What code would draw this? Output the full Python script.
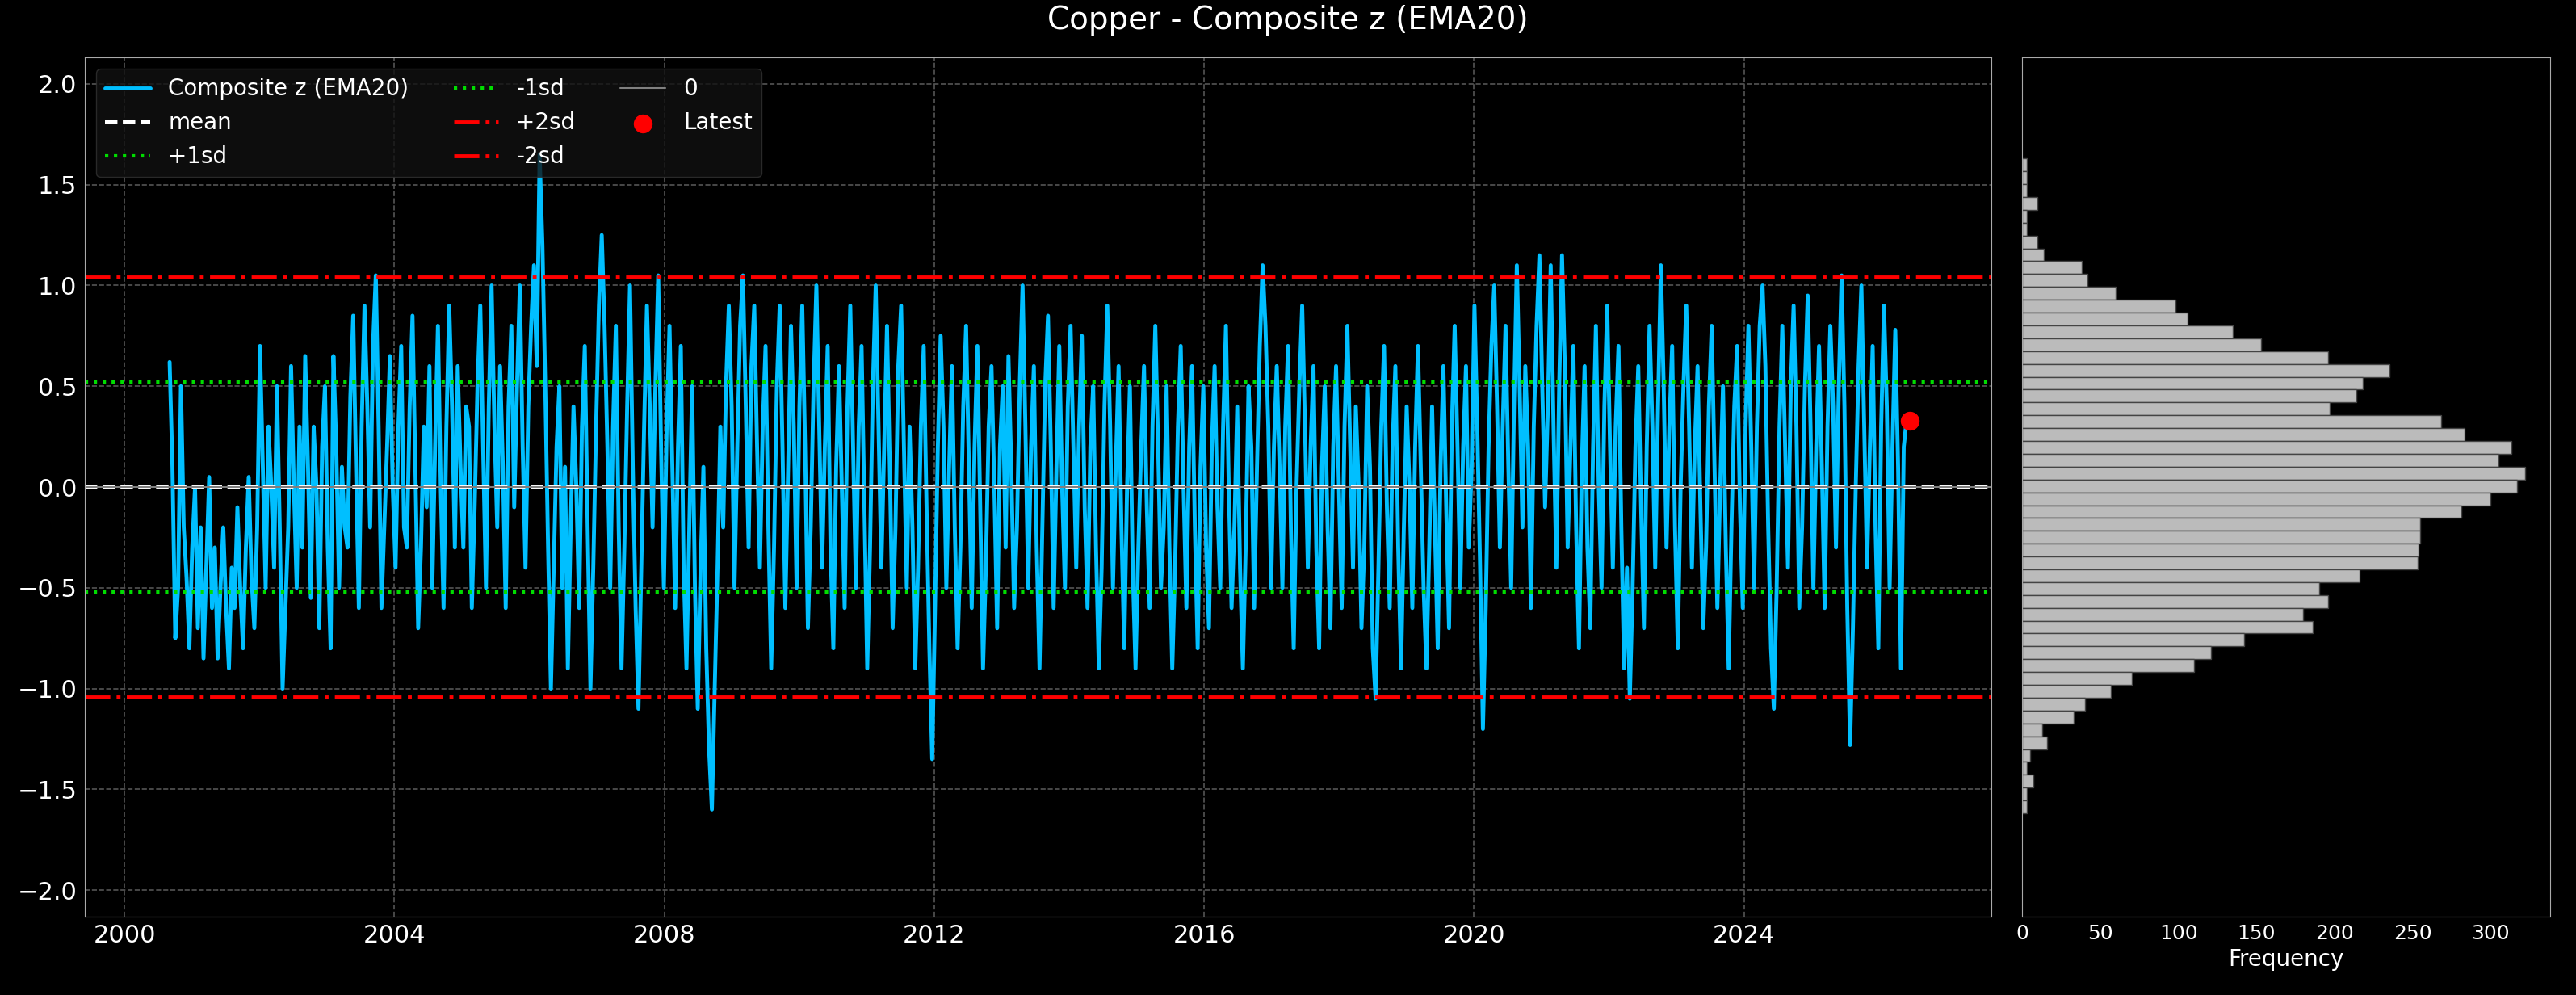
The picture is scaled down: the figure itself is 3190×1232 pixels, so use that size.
import numpy as np, pandas as pd, matplotlib
matplotlib.use("Agg")
import matplotlib.pyplot as plt, seaborn as sns

sns.set_style("dark")
plt.style.use("dark_background")
plt.rcParams['font.family'] = ['DejaVu Sans']

# semi-monthly readings, 2000-09 .. 2026-06
z_2000 = [0.62,0.1,-0.75,-0.5,0.50,-0.2,-0.45,-0.8]
z_2001 = [-0.3,0.0,-0.7,-0.2,-0.85,-0.4,0.05,-0.6,-0.3,-0.85,-0.5,-0.2,-0.6,-0.9,-0.4,-0.6,-0.1,-0.5,-0.8,-0.3,0.05,-0.45,-0.7,-0.2]
z_2002 = [0.7,0.1,-0.5,0.3,0.0,-0.4,0.5,-0.2,-1.0,-0.6,-0.2,0.6,0.0,-0.5,0.3,-0.3,0.65,0.1,-0.55,0.3,0.0,-0.7,0.2,0.5]
z_2003 = [-0.3,-0.8,0.65,0.2,-0.5,0.1,-0.2,-0.3,0.45,0.85,0.1,-0.6,0.3,0.9,0.4,-0.2,0.7,1.05,0.3,-0.6,-0.2,0.2,0.65,0.0]
z_2004 = [-0.4,0.3,0.7,-0.2,-0.3,0.4,0.85,0.1,-0.7,-0.3,0.3,-0.1,0.6,-0.5,0.2,0.8,0.0,-0.6,0.3,0.9,0.4,-0.3,0.6,0.1]
z_2005 = [-0.3,0.4,0.3,-0.6,-0.1,0.5,0.9,0.2,-0.5,0.4,1.0,0.3,-0.2,0.6,0.1,-0.6,0.4,0.8,-0.1,0.5,1.0,0.2,-0.4,0.4]
z_2006 = [0.8,1.1,0.6,1.65,1.2,0.5,-0.3,-1.0,-0.4,0.2,0.5,-0.5,0.1,-0.9,-0.2,0.4,0.0,-0.6,0.3,0.7,-0.2,-1.0,-0.4,0.3]
z_2007 = [0.9,1.25,0.8,0.2,-0.5,0.3,0.8,-0.2,-0.9,-0.3,0.4,1.0,0.1,-0.6,-1.1,-0.4,0.3,0.9,0.4,-0.2,0.5,1.05,0.2,-0.5]
z_2008 = [0.3,0.8,0.1,-0.6,0.2,0.7,-0.4,-0.9,-0.2,0.5,-0.5,-1.1,-0.4,0.1,-0.8,-1.3,-1.6,-1.0,-0.4,0.3,-0.2,0.5,0.9,0.4]
z_2009 = [-0.5,0.2,0.8,1.05,0.4,-0.3,0.6,0.9,0.2,-0.4,0.3,0.7,-0.2,-0.9,-0.3,0.5,0.9,0.2,-0.6,0.1,0.8,0.3,-0.5,0.4]
z_2010 = [0.9,0.2,-0.7,-0.2,0.5,1.0,0.3,-0.4,0.2,0.7,-0.3,-0.8,0.1,0.6,0.0,-0.6,0.4,0.9,0.2,-0.5,0.3,0.7,-0.1,-0.9]
z_2011 = [-0.3,0.5,1.0,0.3,-0.4,0.2,0.8,0.1,-0.7,-0.2,0.6,0.9,0.2,-0.5,0.3,-0.2,-0.9,-0.4,0.3,0.7,-0.1,-0.8,-1.35,-0.6]
z_2012 = [0.2,0.75,0.3,-0.5,0.1,0.6,-0.2,-0.8,-0.3,0.4,0.8,0.1,-0.6,0.2,0.7,-0.1,-0.9,-0.4,0.3,0.6,0.0,-0.7,0.2,0.5]
z_2013 = [-0.3,0.65,0.1,-0.6,-0.2,0.5,1.0,0.3,-0.5,0.2,0.6,-0.3,-0.9,-0.2,0.5,0.85,0.2,-0.6,0.1,0.7,0.0,-0.5,0.4,0.8]
z_2014 = [0.2,-0.4,0.3,0.75,-0.1,-0.6,0.2,0.5,-0.3,-0.9,-0.4,0.4,0.9,0.3,-0.5,0.1,0.6,-0.2,-0.8,0.0,0.5,-0.4,-0.9,-0.3]
z_2015 = [0.2,0.6,-0.1,-0.6,0.3,0.8,0.2,-0.5,-0.2,0.5,-0.3,-0.9,-0.4,0.3,0.7,0.0,-0.6,0.2,0.6,-0.2,-0.8,0.1,0.5,-0.3]
z_2016 = [-0.7,0.2,0.6,-0.1,-0.5,0.3,0.8,0.0,-0.6,-0.2,0.4,-0.4,-0.9,-0.3,0.5,0.2,-0.6,0.1,0.7,1.1,0.8,0.3,-0.5,0.2]
z_2017 = [0.6,0.1,-0.5,0.3,0.7,-0.2,-0.8,0.0,0.5,0.9,0.3,-0.4,0.2,0.6,-0.3,-0.8,0.1,0.5,-0.2,-0.7,0.2,0.6,0.0,-0.6]
z_2018 = [0.3,0.8,0.2,-0.4,0.4,0.0,-0.7,-0.3,0.5,0.1,-0.8,-1.05,-0.4,0.3,0.7,-0.1,-0.6,0.2,0.6,-0.3,-0.9,-0.2,0.4,0.0]
z_2019 = [-0.6,0.2,0.7,0.1,-0.5,-0.9,-0.3,0.4,-0.2,-0.8,0.1,0.6,-0.1,-0.7,0.3,0.8,0.2,-0.5,0.2,0.6,-0.3,0.1,0.9,0.3]
z_2020 = [-0.4,-1.2,-0.6,0.2,0.7,1.0,0.4,-0.3,0.3,0.8,0.1,-0.5,0.4,1.1,0.5,-0.2,0.6,0.2,-0.6,0.3,0.8,1.15,0.5,-0.1]
z_2021 = [0.4,1.1,0.3,-0.4,0.5,1.15,0.6,-0.3,0.2,0.7,-0.2,-0.8,0.1,0.6,-0.3,-0.7,0.2,0.8,0.0,-0.5,0.4,0.9,0.2,-0.4]
z_2022 = [0.3,0.7,-0.2,-0.9,-0.4,-1.05,-0.5,0.2,0.6,-0.1,-0.7,0.2,0.8,0.3,-0.4,0.4,1.1,0.5,-0.3,0.3,0.7,-0.2,-0.8,0.0]
z_2023 = [0.5,0.9,0.3,-0.4,0.2,0.6,-0.1,-0.7,-0.3,0.4,0.8,0.1,-0.6,0.0,0.5,-0.3,-0.9,-0.2,0.4,0.7,-0.1,-0.6,0.3,0.8]
z_2024 = [0.2,-0.5,0.3,0.8,1.0,0.6,-0.2,-0.8,-1.1,-0.5,0.3,0.8,0.2,-0.4,0.5,0.9,0.3,-0.6,-0.2,0.5,0.95,0.3,-0.5,0.2]
z_2025 = [0.7,0.1,-0.6,0.3,0.8,0.4,-0.3,0.5,1.05,0.4,-0.6,-1.28,-0.7,0.0,0.6,1.0,0.3,-0.4,0.2,0.7,-0.2,-0.8,0.3,0.9]
z_2026 = [0.4,-0.5,0.2,0.78,0.1,-0.9,0.2,0.33,0.33]
z_values = (z_2000+z_2001+z_2002+z_2003+z_2004+z_2005+z_2006+z_2007+z_2008+z_2009+
            z_2010+z_2011+z_2012+z_2013+z_2014+z_2015+z_2016+z_2017+z_2018+z_2019+
            z_2020+z_2021+z_2022+z_2023+z_2024+z_2025+z_2026)
start, end = "2000-09-01", "2026-06-15"
dates = pd.to_datetime(np.linspace(pd.Timestamp(start).value, pd.Timestamp(end).value, len(z_values)))
df = pd.DataFrame({"date": dates, "z": z_values})

hist_counts = [3,3,3,10,3,3,10,14,38,42,60,98,106,135,153,196,235,218,214,197,268,283,313,305,322,317,300,281,255,255,254,253,216,190,196,180,186,142,121,110,70,57,40,33,13,16,5,3,7,3,3]
bin_top = 1.63
bin_w = 0.0637
mean_v, sd_v = 0.0, 0.52

fig = plt.figure(figsize=(31.9, 12.32), dpi=100, facecolor="black")
ax = fig.add_axes([0.033, 0.079, 0.740, 0.863])
axh = fig.add_axes([0.785, 0.079, 0.205, 0.863], sharey=ax)

sns.lineplot(data=df, x="date", y="z", ax=ax, color="#00bfff", lw=3.5, label="Composite z (EMA20)")
ax.axhline(mean_v, color="white", ls="--", lw=3, label="mean")
ax.axhline(mean_v+sd_v, color="#00dd00", ls=":", lw=3, label="+1sd")
ax.axhline(mean_v-sd_v, color="#00dd00", ls=":", lw=3, label="-1sd")
ax.axhline(mean_v+2*sd_v, color="red", ls="-.", lw=3.5, label="+2sd")
ax.axhline(mean_v-2*sd_v, color="red", ls="-.", lw=3.5, label="-2sd")
ax.axhline(0, color="gray", lw=1.5, label="0")
ax.scatter([df.date.iloc[-1]], [df.z.iloc[-1]], color="red", s=250, zorder=5, label="Latest")
ax.set_ylim(-2.13, 2.13)
ax.set_xlim(pd.Timestamp("1999-06-01"), pd.Timestamp("2027-09-01"))
ax.set_xticks(pd.to_datetime([f"{y}-01-01" for y in range(2000, 2028, 4)]))
ax.set_xticklabels([str(y) for y in range(2000, 2028, 4)])
ax.set_xlabel(""); ax.set_ylabel("")
ax.grid(True, ls="--", color="#555555", lw=1.2)
ax.tick_params(labelsize=22)
ax.legend(ncol=3, fontsize=20, loc="upper left", facecolor="#111111", edgecolor="#333333")
for s in ax.spines.values(): s.set_color("#aaaaaa")

centers = [bin_top - bin_w*(i+0.5) for i in range(len(hist_counts))]
axh.barh(centers, hist_counts, height=bin_w, color="#bbbbbb", edgecolor="#444444")
axh.set_xlabel("Frequency", fontsize=20)
axh.tick_params(labelsize=18, labelleft=False, left=False)
for s in axh.spines.values(): s.set_color("#aaaaaa")
fig.suptitle("Copper - Composite z (EMA20)", fontsize=28, y=0.995)
fig.savefig("out.png", dpi=100, facecolor="black")
